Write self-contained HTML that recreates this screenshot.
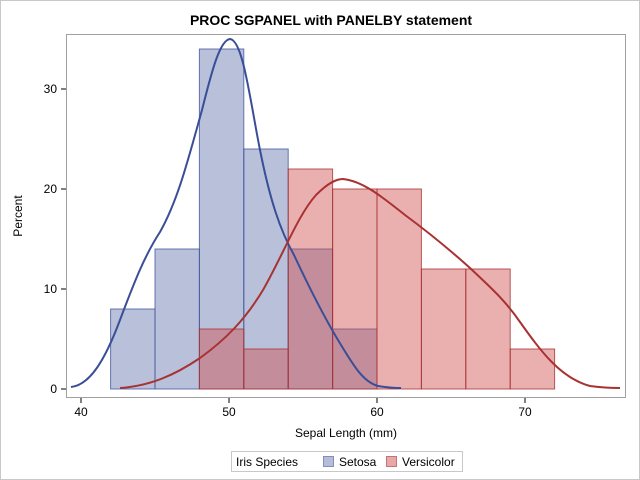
<!DOCTYPE html>
<html><head><style>body{margin:0;background:#fff}svg{display:block}</style></head><body>
<svg width="640" height="480" xmlns="http://www.w3.org/2000/svg" font-family="Liberation Sans, sans-serif">
<rect x="0.5" y="0.5" width="639" height="479" fill="#fff" stroke="#c8c8c8"/>
<text x="331" y="25" text-anchor="middle" font-size="14" font-weight="bold">PROC SGPANEL with PANELBY statement</text>
<rect x="66.5" y="34.5" width="559" height="363" fill="#fff" stroke="#a0a0a0"/>
<g fill="#44599f" fill-opacity="0.38" stroke="#44599f" stroke-opacity="0.8" stroke-width="1">
<rect x="110.6" y="309" width="44.4" height="80"/>
<rect x="155" y="249" width="44.4" height="140"/>
<rect x="199.4" y="49" width="44.4" height="340"/>
<rect x="243.8" y="149" width="44.4" height="240"/>
<rect x="288.2" y="249" width="44.4" height="140"/>
<rect x="332.6" y="329" width="44.4" height="60"/>
</g>
<g fill="#d05050" fill-opacity="0.45" stroke="#a83232" stroke-opacity="0.8" stroke-width="1">
<rect x="199.4" y="329" width="44.4" height="60"/>
<rect x="243.8" y="349" width="44.4" height="40"/>
<rect x="288.2" y="169" width="44.4" height="220"/>
<rect x="332.6" y="189" width="44.4" height="200"/>
<rect x="377" y="189" width="44.4" height="200"/>
<rect x="421.4" y="269" width="44.4" height="120"/>
<rect x="465.8" y="269" width="44.4" height="120"/>
<rect x="510.2" y="349" width="44.4" height="40"/>
</g>
<path d="M71,387 C90,385 105,360 120,320 C135,280 145,255 160,232 C178,200 188,160 202,110 C212,70 220,40 230,39 C243,40 250,100 260,150 C270,200 280,230 294,255 C308,285 323,315 338,340 C353,365 363,382 378,386 C390,388 395,388 401,388" fill="none" stroke="#3a4e96" stroke-width="2"/>
<path d="M120,388 C150,386 175,375 200,358 C225,340 245,320 263,290 C283,255 298,215 316,195 C328,183 336,179 343,179 C362,181 380,195 405,215 C428,232 450,250 470,268 C490,287 505,300 520,322 C540,350 560,378 590,386 C605,388 612,388 620,388" fill="none" stroke="#a83232" stroke-width="2"/>
<g stroke="#000" stroke-width="1">
<line x1="81" y1="398" x2="81" y2="403"/><line x1="229" y1="398" x2="229" y2="403"/><line x1="377" y1="398" x2="377" y2="403"/><line x1="525" y1="398" x2="525" y2="403"/>
<line x1="61" y1="389" x2="66" y2="389"/><line x1="61" y1="289" x2="66" y2="289"/><line x1="61" y1="189" x2="66" y2="189"/><line x1="61" y1="89" x2="66" y2="89"/>
</g>
<g font-size="12" fill="#000">
<text x="81" y="416" text-anchor="middle">40</text><text x="229" y="416" text-anchor="middle">50</text><text x="377" y="416" text-anchor="middle">60</text><text x="525" y="416" text-anchor="middle">70</text>
<text x="57" y="393" text-anchor="end">0</text><text x="57" y="293" text-anchor="end">10</text><text x="57" y="193" text-anchor="end">20</text><text x="57" y="93" text-anchor="end">30</text>
<text x="346" y="437" text-anchor="middle">Sepal Length (mm)</text>
<text x="22" y="216" text-anchor="middle" transform="rotate(-90 22 216)">Percent</text>
</g>
<rect x="231.5" y="451.5" width="231" height="20" fill="#fff" stroke="#c8c8c8"/>
<g font-size="12">
<text x="236" y="466">Iris Species</text>
<rect x="323.5" y="456.5" width="10" height="10" fill="#b5bdd9" stroke="#44599f" stroke-opacity="0.6"/>
<text x="339" y="466">Setosa</text>
<rect x="386.5" y="456.5" width="10" height="10" fill="#e6a8a8" stroke="#a83232" stroke-opacity="0.6"/>
<text x="402" y="466">Versicolor</text>
</g>
</svg>
</body></html>
